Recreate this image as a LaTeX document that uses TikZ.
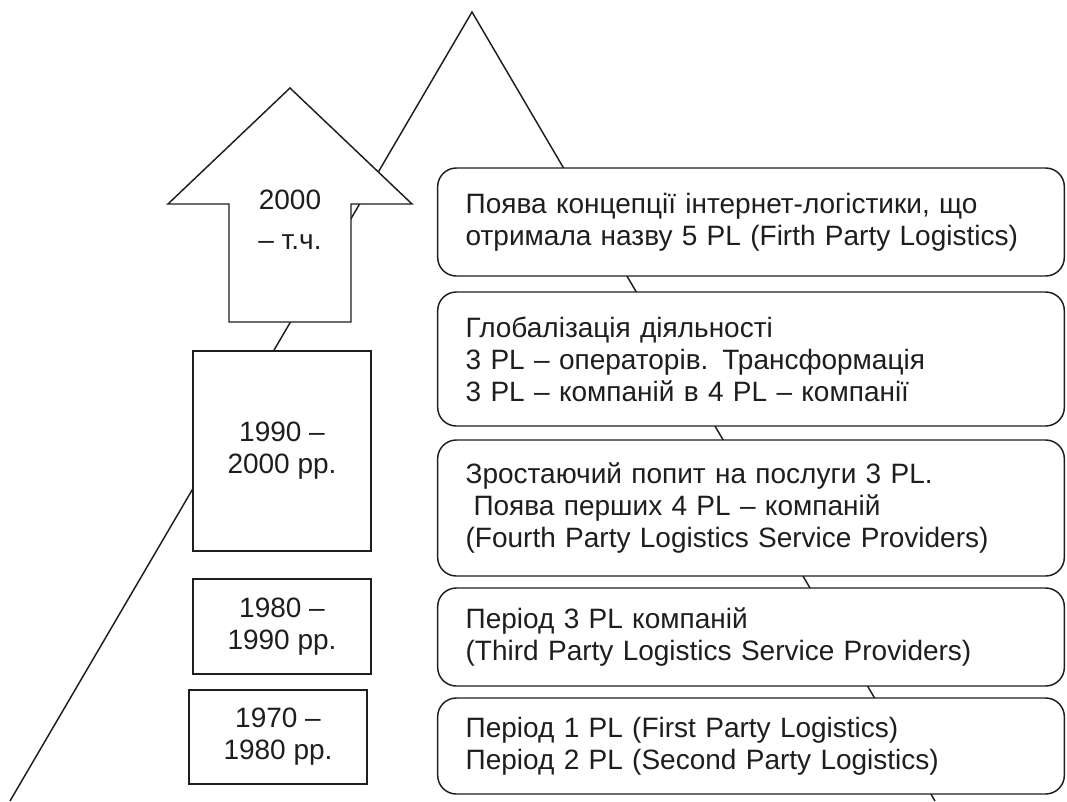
\documentclass[tikz,border=0pt]{standalone}
\usepackage{fontspec}
\setmainfont{Liberation Sans}
\definecolor{inkgray}{RGB}{30,30,30}
\newcommand{\periodfont}{\fontsize{21}{24}\selectfont}
\tikzset{
  outline/.style={
    line width=1.1pt,
    draw=inkgray,
    line join=miter
  },
  year-box/.style={
    outline,
    fill=white,
    align=center,
    inner sep=0pt,
    text=inkgray,
    font=\periodfont
  },
  period-box/.style={
    outline,
    fill=white,
    rounded corners=14pt,
    align=left,
    text width=428pt,
    inner xsep=21pt,
    inner ysep=0pt,
    text=inkgray,
    font=\periodfont
  },
  arrow-label/.style={align=center, inner sep=0pt, text=inkgray, font=\fontsize{21}{30}\selectfont}
}
\begin{document}
\begin{tikzpicture}[x=0.75pt, y=-0.75pt]
  \useasboundingbox (0,0) rectangle (1067,801);
  % Big triangle behind everything
  \coordinate (apex) at (472,12);
  \coordinate (base-left) at (10,801);
  \coordinate (base-right) at (935,801);
  \draw[outline] (base-left) -- (apex) -- (base-right);
  % Up arrow
  \filldraw[outline, fill=white] (290,88) -- (412,204) -- (351,204) -- (351,322)
    -- (229,322) -- (229,204) -- (168,204) -- cycle;
  \node[arrow-label] (year-2000) at (290,220) {2000\\– т.ч.};
  % Year boxes
  \node[year-box, minimum width=133.5pt, minimum height=150pt] (year-1990) at (282,451) {1990 –\\2000 рр.};
  \node[year-box, minimum width=133.5pt, minimum height=71.25pt] (year-1980) at (282,626.5) {1980 –\\1990 рр.};
  \node[year-box, minimum width=133.5pt, minimum height=70.5pt] (year-1970) at (278,737) {1970 –\\1980 рр.};
  % Period boxes
  \node[period-box, minimum height=81pt] (period-5pl) at (751,222)
    {Поява концепції інтернет-логістики, що\\отримала назву 5 PL (Firth Party Logistics)};
  \node[period-box, minimum height=100.5pt] (period-global) at (751,359)
    {Глобалізація діяльності\\3 PL – операторів. Трансформація\\3 PL – компаній в 4 PL – компанії};
  \node[period-box, minimum height=102pt] (period-4pl) at (751,508)
    {Зростаючий попит на послуги 3 PL.\\\hspace*{0.28em}Поява перших 4 PL – компаній\\(Fourth Party Logistics Service Providers)};
  \node[period-box, minimum height=73.5pt] (period-3pl) at (751,637)
    {Період 3 PL компаній\\(Third Party Logistics Service Providers)};
  \node[period-box, minimum height=72pt] (period-12pl) at (751,746)
    {Період 1 PL (First Party Logistics)\\Період 2 PL (Second Party Logistics)};
\end{tikzpicture}
\end{document}
